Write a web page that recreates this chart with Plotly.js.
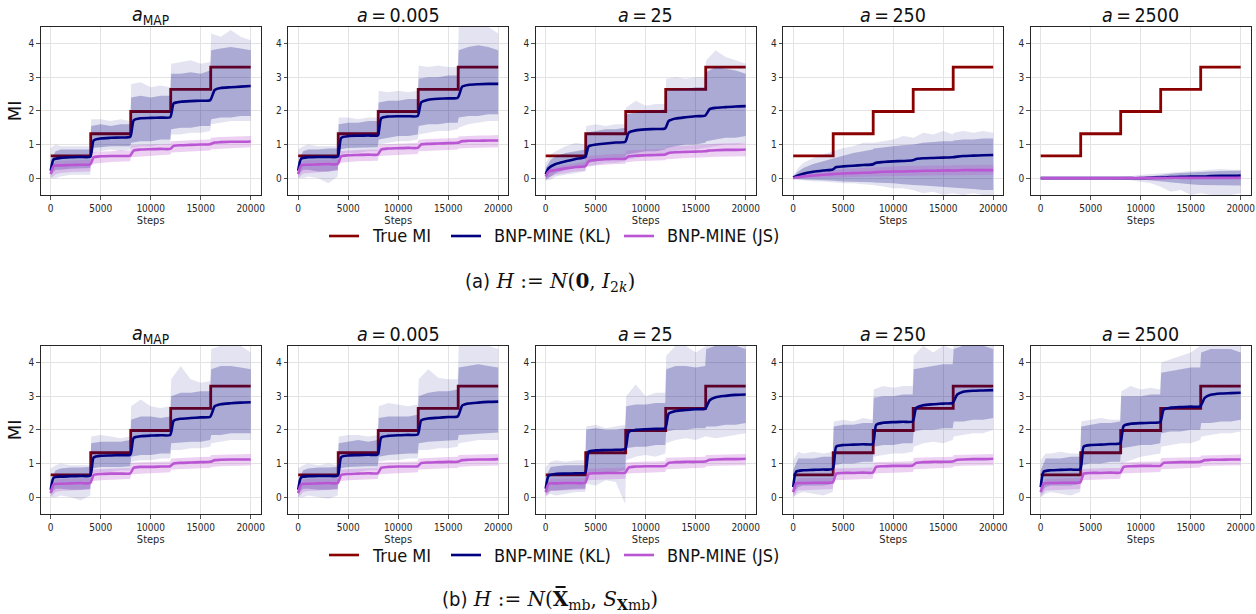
<!DOCTYPE html>
<html>
<head>
<meta charset="utf-8">
<script src="https://cdn.plot.ly/plotly-3.0.1.min.js"></script>
<style>
  html, body { margin: 0; padding: 0; background: #ffffff; }
  #chart { width: 1256px; height: 614px; }
</style>
</head>
<body>
<div id="chart"></div>
<script>
// ---- training-step grids ----
const stepsLine = [0, 300, 1000, 2000, 3000, 3950, 4300, 5000, 6000, 7000, 7950, 8300, 9000, 10000, 11000, 11950, 12300, 13000, 14000, 15000, 15950, 16400, 17000, 18000, 19000, 20000];
const stepsBand = [0, 500, 1000, 2000, 3000, 3950, 4050, 5000, 6000, 7000, 7950, 8050, 9000, 10000, 11000, 11950, 12050, 13000, 14000, 15000, 15950, 16050, 17000, 18000, 19000, 20000];

// ---- ground-truth mutual information (staircase) ----
const trueSteps = [0, 4000, 8000, 12000, 16000, 20000];
const trueMI = [0.66, 1.32, 1.98, 2.64, 3.30, 3.30];

// ---- panel titles, legend labels, ticks ----
const panelTitles = ['<i>a</i><sub>MAP</sub>', '<i>a</i>\u2009=\u20090.005', '<i>a</i>\u2009=\u200925', '<i>a</i>\u2009=\u2009250', '<i>a</i>\u2009=\u20092500'];
const legendNames = ['True MI', 'BNP-MINE (KL)', 'BNP-MINE (JS)'];
const xTicks = [0, 5000, 10000, 15000, 20000];
const yTicks = [0, 1, 2, 3, 4];

// Each panel: smoothed KL / JS estimates (on stepsLine), the dense spread of the
// raw KL / JS estimates (Hi/Lo on stepsBand) and the extremes of the raw KL spikes (Max/Min).

// ================= (a) H := N(0, I_2k) =================
// a_MAP
const klA_map    = [0.22, 0.56, 0.60, 0.62, 0.63, 0.64, 1.12, 1.18, 1.20, 1.21, 1.23, 1.72, 1.78, 1.79, 1.80, 1.81, 2.22, 2.27, 2.29, 2.30, 2.32, 2.62, 2.68, 2.70, 2.72, 2.74];
const jsA_map    = [0.12, 0.36, 0.38, 0.39, 0.40, 0.41, 0.62, 0.65, 0.66, 0.66, 0.67, 0.82, 0.85, 0.86, 0.87, 0.87, 0.96, 0.98, 0.99, 1.00, 1.01, 1.06, 1.07, 1.08, 1.08, 1.09];
const klA_mapHi  = [0.55, 0.80, 0.85, 0.85, 0.86, 0.85, 1.55, 1.60, 1.55, 1.60, 1.60, 2.40, 2.45, 2.40, 2.45, 2.45, 3.10, 3.10, 3.15, 3.10, 3.20, 3.80, 3.85, 3.90, 3.85, 3.80];
const klA_mapLo  = [0.10, 0.25, 0.25, 0.28, 0.30, 0.30, 0.90, 0.92, 0.95, 0.95, 0.95, 1.05, 1.10, 1.10, 1.15, 1.15, 1.45, 1.50, 1.50, 1.55, 1.55, 1.75, 1.80, 1.80, 1.85, 1.85];
const klA_mapMax = [0.90, 1.00, 0.95, 0.95, 0.95, 0.95, 1.75, 1.75, 1.70, 1.75, 1.70, 2.80, 2.85, 2.70, 2.75, 2.70, 3.40, 3.45, 3.50, 3.40, 3.45, 4.30, 4.20, 4.40, 4.20, 4.10];
const klA_mapMin = [0.00, 0.00, 0.05, 0.10, 0.10, 0.10, 0.75, 0.80, 0.85, 0.80, 0.85, 0.90, 0.95, 0.95, 1.00, 1.00, 1.30, 1.30, 1.35, 1.35, 1.40, 1.60, 1.65, 1.70, 1.70, 1.70];
const jsA_mapHi  = [0.30, 0.50, 0.52, 0.53, 0.54, 0.55, 0.78, 0.80, 0.80, 0.82, 0.82, 0.98, 1.00, 1.00, 1.01, 1.02, 1.10, 1.12, 1.13, 1.14, 1.15, 1.20, 1.22, 1.23, 1.24, 1.25];
const jsA_mapLo  = [0.00, 0.12, 0.15, 0.18, 0.20, 0.20, 0.42, 0.45, 0.48, 0.50, 0.50, 0.62, 0.65, 0.67, 0.68, 0.70, 0.76, 0.78, 0.80, 0.80, 0.82, 0.86, 0.88, 0.90, 0.90, 0.92];
// a = 0.005
const klA_0005    = [0.22, 0.58, 0.62, 0.63, 0.63, 0.64, 1.20, 1.25, 1.26, 1.27, 1.27, 1.78, 1.83, 1.84, 1.84, 1.85, 2.25, 2.33, 2.36, 2.37, 2.39, 2.72, 2.77, 2.79, 2.80, 2.80];
const jsA_0005    = [0.12, 0.38, 0.40, 0.41, 0.42, 0.42, 0.65, 0.68, 0.69, 0.70, 0.70, 0.85, 0.88, 0.89, 0.90, 0.90, 1.00, 1.02, 1.03, 1.04, 1.05, 1.10, 1.11, 1.11, 1.12, 1.12];
const klA_0005Hi  = [0.50, 0.80, 0.85, 0.85, 0.88, 0.88, 1.60, 1.65, 1.65, 1.70, 1.70, 2.25, 2.30, 2.30, 2.35, 2.35, 2.95, 3.00, 3.00, 3.05, 3.05, 3.80, 3.90, 3.95, 3.90, 3.80];
const klA_0005Lo  = [0.10, 0.25, 0.25, 0.20, 0.20, 0.25, 0.85, 0.90, 0.90, 0.92, 0.92, 1.15, 1.20, 1.25, 1.25, 1.30, 1.55, 1.60, 1.60, 1.65, 1.65, 1.80, 1.85, 1.85, 1.90, 1.90];
const klA_0005Max = [0.85, 0.95, 1.00, 0.95, 0.95, 0.95, 1.80, 1.80, 1.75, 1.80, 1.80, 2.60, 2.55, 2.60, 2.55, 2.60, 3.35, 3.30, 3.35, 3.30, 3.30, 4.50, 4.50, 4.50, 4.50, 4.30];
const klA_0005Min = [0.00, 0.00, 0.05, 0.00, -0.15, 0.05, 0.70, 0.75, 0.75, 0.80, 0.80, 1.00, 1.05, 1.10, 1.10, 1.15, 1.30, 1.35, 1.40, 1.40, 1.45, 1.50, 1.60, 1.65, 1.70, 1.70];
const jsA_0005Hi  = [0.30, 0.52, 0.54, 0.55, 0.55, 0.56, 0.80, 0.83, 0.84, 0.85, 0.85, 1.00, 1.02, 1.03, 1.04, 1.05, 1.14, 1.16, 1.17, 1.18, 1.19, 1.24, 1.26, 1.27, 1.27, 1.28];
const jsA_0005Lo  = [0.00, 0.14, 0.16, 0.18, 0.20, 0.22, 0.45, 0.48, 0.50, 0.52, 0.52, 0.66, 0.68, 0.70, 0.71, 0.72, 0.80, 0.82, 0.83, 0.84, 0.85, 0.88, 0.90, 0.91, 0.92, 0.92];
// a = 25
const klA_25    = [0.12, 0.30, 0.42, 0.50, 0.57, 0.63, 0.95, 1.00, 1.03, 1.06, 1.08, 1.35, 1.42, 1.45, 1.46, 1.48, 1.70, 1.77, 1.81, 1.84, 1.86, 2.05, 2.09, 2.11, 2.13, 2.14];
const jsA_25    = [0.05, 0.20, 0.24, 0.29, 0.33, 0.36, 0.50, 0.54, 0.56, 0.57, 0.58, 0.65, 0.67, 0.68, 0.69, 0.70, 0.75, 0.77, 0.78, 0.79, 0.80, 0.82, 0.83, 0.84, 0.84, 0.85];
const klA_25Hi  = [0.30, 0.55, 0.65, 0.75, 0.80, 0.85, 1.35, 1.40, 1.45, 1.45, 1.50, 1.90, 1.95, 2.00, 2.00, 2.05, 2.60, 2.65, 2.65, 2.70, 2.70, 3.15, 3.30, 3.25, 3.20, 3.10];
const klA_25Lo  = [-0.05, 0.05, 0.15, 0.25, 0.30, 0.30, 0.45, 0.50, 0.55, 0.55, 0.60, 0.70, 0.75, 0.80, 0.80, 0.85, 0.90, 0.95, 1.00, 1.00, 1.05, 1.10, 1.15, 1.20, 1.20, 1.25];
const klA_25Max = [0.45, 0.70, 0.80, 0.95, 1.05, 1.00, 1.55, 1.60, 1.55, 1.60, 1.60, 2.10, 2.30, 2.15, 2.20, 2.20, 2.95, 3.00, 2.95, 3.00, 3.00, 3.50, 3.80, 3.60, 3.50, 3.40];
const klA_25Min = [-0.08, -0.05, 0.05, 0.10, 0.15, 0.20, 0.35, 0.40, 0.45, 0.45, 0.50, 0.55, 0.60, 0.65, 0.65, 0.70, 0.75, 0.80, 0.85, 0.85, 0.90, 0.90, 0.95, 1.00, 1.00, 1.05];
const jsA_25Hi  = [0.20, 0.32, 0.35, 0.40, 0.45, 0.48, 0.65, 0.68, 0.70, 0.72, 0.72, 0.82, 0.84, 0.85, 0.86, 0.87, 0.93, 0.95, 0.96, 0.97, 0.98, 1.00, 1.02, 1.03, 1.04, 1.05];
const jsA_25Lo  = [-0.05, 0.05, 0.10, 0.15, 0.20, 0.22, 0.33, 0.38, 0.40, 0.42, 0.43, 0.47, 0.50, 0.52, 0.52, 0.53, 0.56, 0.58, 0.60, 0.60, 0.62, 0.62, 0.64, 0.64, 0.65, 0.65];
// a = 250
const klA_250    = [0.02, 0.06, 0.13, 0.19, 0.23, 0.26, 0.33, 0.35, 0.37, 0.39, 0.41, 0.46, 0.48, 0.50, 0.51, 0.53, 0.57, 0.59, 0.60, 0.61, 0.62, 0.64, 0.66, 0.67, 0.68, 0.69];
const jsA_250    = [0.00, 0.02, 0.05, 0.08, 0.10, 0.12, 0.13, 0.14, 0.15, 0.16, 0.17, 0.18, 0.19, 0.20, 0.20, 0.21, 0.21, 0.22, 0.22, 0.23, 0.23, 0.23, 0.24, 0.24, 0.24, 0.24];
const klA_250Hi  = [0.05, 0.20, 0.30, 0.42, 0.50, 0.58, 0.60, 0.68, 0.75, 0.80, 0.85, 0.88, 0.92, 0.95, 0.98, 1.00, 1.00, 1.05, 1.08, 1.10, 1.10, 1.12, 1.15, 1.15, 1.18, 1.18];
const klA_250Lo  = [-0.02, -0.03, -0.05, -0.05, -0.06, -0.08, -0.08, -0.10, -0.10, -0.12, -0.12, -0.13, -0.15, -0.15, -0.18, -0.20, -0.20, -0.22, -0.25, -0.28, -0.30, -0.30, -0.30, -0.32, -0.35, -0.35];
const klA_250Max = [0.08, 0.30, 0.45, 0.60, 0.70, 0.80, 0.80, 0.90, 0.95, 1.05, 1.05, 1.05, 1.10, 1.15, 1.25, 1.20, 1.20, 1.35, 1.30, 1.40, 1.30, 1.35, 1.40, 1.35, 1.40, 1.35];
const klA_250Min = [-0.03, -0.05, -0.08, -0.10, -0.10, -0.12, -0.12, -0.15, -0.15, -0.18, -0.20, -0.20, -0.25, -0.30, -0.30, -0.35, -0.35, -0.45, -0.40, -0.50, -0.45, -0.45, -0.50, -0.45, -0.50, -0.50];
const jsA_250Hi  = [0.02, 0.08, 0.12, 0.17, 0.21, 0.24, 0.25, 0.27, 0.29, 0.31, 0.32, 0.33, 0.34, 0.35, 0.36, 0.36, 0.37, 0.37, 0.38, 0.38, 0.38, 0.39, 0.39, 0.40, 0.40, 0.40];
const jsA_250Lo  = [-0.02, -0.03, -0.02, 0.00, 0.01, 0.02, 0.02, 0.03, 0.04, 0.04, 0.05, 0.05, 0.06, 0.06, 0.07, 0.07, 0.07, 0.08, 0.08, 0.08, 0.08, 0.09, 0.09, 0.09, 0.10, 0.10];
// a = 2500
const klA_2500    = [0.00, 0.00, 0.00, 0.00, 0.00, 0.00, 0.00, 0.00, 0.00, 0.00, 0.00, 0.00, 0.00, 0.00, 0.01, 0.02, 0.02, 0.03, 0.04, 0.05, 0.05, 0.05, 0.06, 0.07, 0.07, 0.08];
const jsA_2500    = [0.00, 0.00, 0.00, 0.00, 0.00, 0.00, 0.00, 0.00, 0.00, 0.00, 0.00, 0.00, 0.00, 0.00, 0.00, 0.00, 0.00, 0.01, 0.01, 0.01, 0.01, 0.01, 0.01, 0.01, 0.01, 0.01];
const klA_2500Hi  = [0.01, 0.01, 0.01, 0.01, 0.01, 0.01, 0.01, 0.01, 0.01, 0.01, 0.01, 0.01, 0.01, 0.03, 0.06, 0.10, 0.10, 0.13, 0.15, 0.17, 0.18, 0.19, 0.20, 0.21, 0.22, 0.22];
const klA_2500Lo  = [-0.01, -0.01, -0.01, -0.01, -0.01, -0.01, -0.01, -0.01, -0.01, -0.01, -0.01, -0.01, -0.01, -0.02, -0.05, -0.08, -0.10, -0.12, -0.15, -0.18, -0.20, -0.20, -0.20, -0.22, -0.22, -0.22];
const klA_2500Max = [0.01, 0.01, 0.01, 0.01, 0.01, 0.01, 0.01, 0.01, 0.02, 0.03, 0.04, 0.04, 0.06, 0.10, 0.12, 0.15, 0.15, 0.18, 0.20, 0.22, 0.22, 0.24, 0.25, 0.27, 0.25, 0.25];
const klA_2500Min = [-0.01, -0.01, -0.01, -0.01, -0.01, -0.01, -0.01, -0.01, -0.02, -0.03, -0.04, -0.04, -0.06, -0.10, -0.15, -0.25, -0.25, -0.40, -0.35, -0.50, -0.45, -0.45, -0.50, -0.50, -0.50, -0.45];
const jsA_2500Hi  = [0.015, 0.015, 0.015, 0.015, 0.015, 0.015, 0.015, 0.015, 0.015, 0.015, 0.015, 0.015, 0.015, 0.015, 0.015, 0.02, 0.02, 0.025, 0.025, 0.03, 0.03, 0.03, 0.03, 0.03, 0.03, 0.03];
const jsA_2500Lo  = [-0.015, -0.015, -0.015, -0.015, -0.015, -0.015, -0.015, -0.015, -0.015, -0.015, -0.015, -0.015, -0.015, -0.015, -0.015, -0.015, -0.015, -0.015, -0.015, -0.015, -0.015, -0.015, -0.015, -0.015, -0.015, -0.015];

// ================= (b) H := N(X̄_mb, S_X_mb) =================
// a_MAP
const klB_map    = [0.22, 0.58, 0.61, 0.62, 0.63, 0.64, 1.18, 1.23, 1.24, 1.25, 1.26, 1.76, 1.81, 1.83, 1.84, 1.85, 2.27, 2.33, 2.35, 2.37, 2.39, 2.70, 2.76, 2.79, 2.81, 2.82];
const jsB_map    = [0.12, 0.38, 0.40, 0.41, 0.42, 0.42, 0.66, 0.69, 0.70, 0.70, 0.71, 0.87, 0.90, 0.90, 0.91, 0.92, 1.00, 1.02, 1.03, 1.04, 1.05, 1.10, 1.11, 1.12, 1.12, 1.12];
const klB_mapHi  = [0.50, 0.80, 0.85, 0.88, 0.88, 0.90, 1.60, 1.65, 1.65, 1.65, 1.70, 2.30, 2.40, 2.40, 2.35, 2.40, 3.00, 3.10, 3.10, 3.15, 3.15, 3.80, 3.90, 3.90, 3.85, 3.80];
const klB_mapLo  = [0.10, 0.25, 0.25, 0.22, 0.22, 0.25, 0.85, 0.90, 0.90, 0.90, 0.92, 1.20, 1.25, 1.25, 1.30, 1.30, 1.60, 1.62, 1.65, 1.65, 1.70, 1.85, 1.85, 1.90, 1.90, 1.90];
const klB_mapMax = [0.85, 0.95, 1.00, 0.95, 0.95, 0.95, 1.80, 1.85, 1.80, 1.75, 1.80, 2.70, 2.90, 2.70, 2.65, 2.70, 3.50, 3.90, 3.50, 3.40, 3.45, 4.40, 4.50, 4.50, 4.50, 4.30];
const klB_mapMin = [0.00, 0.00, 0.05, 0.00, -0.10, 0.05, 0.70, 0.75, 0.75, 0.80, 0.80, 1.05, 1.10, 1.10, 1.15, 1.15, 1.40, 1.40, 1.45, 1.45, 1.50, 1.60, 1.65, 1.70, 1.70, 1.70];
const jsB_mapHi  = [0.30, 0.52, 0.54, 0.55, 0.55, 0.56, 0.82, 0.84, 0.85, 0.86, 0.86, 1.02, 1.04, 1.05, 1.05, 1.06, 1.15, 1.17, 1.18, 1.19, 1.20, 1.25, 1.26, 1.27, 1.27, 1.28];
const jsB_mapLo  = [0.00, 0.15, 0.18, 0.20, 0.21, 0.22, 0.47, 0.50, 0.52, 0.53, 0.54, 0.68, 0.70, 0.72, 0.73, 0.74, 0.82, 0.84, 0.85, 0.86, 0.87, 0.90, 0.92, 0.93, 0.94, 0.94];
// a = 0.005
const klB_0005    = [0.22, 0.59, 0.62, 0.63, 0.63, 0.64, 1.19, 1.24, 1.25, 1.26, 1.27, 1.77, 1.82, 1.84, 1.85, 1.86, 2.28, 2.34, 2.36, 2.38, 2.40, 2.72, 2.78, 2.81, 2.83, 2.84];
const jsB_0005    = [0.12, 0.38, 0.40, 0.41, 0.42, 0.42, 0.66, 0.69, 0.70, 0.71, 0.71, 0.87, 0.90, 0.91, 0.91, 0.92, 1.01, 1.03, 1.04, 1.05, 1.05, 1.10, 1.11, 1.12, 1.12, 1.13];
const klB_0005Hi  = [0.50, 0.80, 0.85, 0.88, 0.88, 0.90, 1.60, 1.65, 1.70, 1.65, 1.70, 2.35, 2.40, 2.40, 2.40, 2.45, 3.00, 3.10, 3.15, 3.15, 3.20, 3.85, 3.90, 3.95, 3.90, 3.85];
const klB_0005Lo  = [0.10, 0.25, 0.25, 0.22, 0.22, 0.25, 0.85, 0.90, 0.90, 0.92, 0.92, 1.20, 1.25, 1.28, 1.30, 1.30, 1.60, 1.65, 1.65, 1.68, 1.70, 1.85, 1.88, 1.90, 1.90, 1.92];
const klB_0005Max = [0.85, 0.95, 1.00, 0.95, 1.00, 0.95, 1.80, 1.85, 1.85, 1.80, 1.85, 2.70, 2.80, 2.75, 2.70, 2.75, 3.50, 3.80, 3.55, 3.50, 3.50, 4.50, 4.50, 4.50, 4.50, 4.40];
const klB_0005Min = [0.00, 0.00, 0.05, 0.00, -0.05, 0.05, 0.70, 0.75, 0.75, 0.80, 0.80, 1.05, 1.10, 1.10, 1.15, 1.15, 1.40, 1.40, 1.45, 1.45, 1.50, 1.60, 1.65, 1.70, 1.70, 1.70];
const jsB_0005Hi  = [0.30, 0.52, 0.54, 0.55, 0.55, 0.56, 0.82, 0.84, 0.85, 0.86, 0.86, 1.02, 1.04, 1.05, 1.05, 1.06, 1.15, 1.17, 1.18, 1.19, 1.20, 1.25, 1.26, 1.27, 1.27, 1.28];
const jsB_0005Lo  = [0.00, 0.15, 0.18, 0.20, 0.21, 0.22, 0.47, 0.50, 0.52, 0.53, 0.54, 0.68, 0.70, 0.72, 0.73, 0.74, 0.82, 0.84, 0.85, 0.86, 0.87, 0.90, 0.92, 0.93, 0.94, 0.94];
// a = 25
const klB_25    = [0.25, 0.64, 0.69, 0.70, 0.71, 0.73, 1.35, 1.39, 1.40, 1.41, 1.43, 1.94, 2.00, 2.02, 2.03, 2.05, 2.48, 2.56, 2.59, 2.61, 2.63, 2.88, 2.97, 3.01, 3.04, 3.05];
const jsB_25    = [0.15, 0.40, 0.41, 0.42, 0.42, 0.43, 0.69, 0.71, 0.72, 0.72, 0.73, 0.88, 0.91, 0.92, 0.92, 0.93, 1.02, 1.04, 1.05, 1.05, 1.06, 1.11, 1.12, 1.13, 1.13, 1.14];
const klB_25Hi  = [0.60, 0.90, 0.92, 0.95, 0.95, 0.95, 2.00, 2.05, 2.00, 2.00, 2.05, 2.70, 2.75, 2.75, 2.80, 2.80, 3.80, 3.90, 3.90, 3.85, 3.90, 4.40, 4.50, 4.50, 4.50, 4.40];
const klB_25Lo  = [0.10, 0.20, 0.20, 0.22, 0.25, 0.25, 0.70, 0.75, 0.75, 0.75, 0.80, 1.45, 1.50, 1.50, 1.55, 1.55, 1.95, 2.00, 2.00, 2.05, 2.05, 2.10, 2.10, 2.15, 2.15, 2.20];
const klB_25Max = [0.90, 1.05, 1.10, 1.05, 1.10, 1.10, 2.10, 2.15, 2.05, 2.10, 2.15, 3.00, 3.35, 3.00, 3.10, 3.10, 4.20, 4.50, 4.50, 4.30, 4.50, 4.50, 4.50, 4.50, 4.50, 4.50];
const klB_25Min = [0.05, 0.10, 0.05, 0.10, 0.15, 0.15, 0.40, 0.35, 0.50, 0.45, -0.20, 1.10, 1.20, 1.25, 1.20, 1.30, 1.60, 1.70, 1.75, 1.70, 1.80, 1.80, 1.75, 1.80, 1.85, 1.90];
const jsB_25Hi  = [0.30, 0.55, 0.55, 0.56, 0.56, 0.57, 0.84, 0.86, 0.87, 0.87, 0.88, 1.03, 1.05, 1.06, 1.06, 1.07, 1.17, 1.18, 1.19, 1.20, 1.20, 1.25, 1.26, 1.27, 1.28, 1.28];
const jsB_25Lo  = [0.00, 0.18, 0.20, 0.21, 0.22, 0.23, 0.50, 0.52, 0.53, 0.54, 0.55, 0.70, 0.72, 0.73, 0.74, 0.75, 0.83, 0.85, 0.86, 0.87, 0.88, 0.92, 0.93, 0.94, 0.95, 0.95];
// a = 250
const klB_250    = [0.30, 0.76, 0.80, 0.81, 0.82, 0.84, 1.50, 1.55, 1.56, 1.57, 1.58, 2.15, 2.21, 2.23, 2.24, 2.25, 2.65, 2.73, 2.76, 2.78, 2.80, 3.05, 3.13, 3.16, 3.17, 3.18];
const jsB_250    = [0.15, 0.41, 0.42, 0.43, 0.43, 0.44, 0.70, 0.72, 0.72, 0.73, 0.73, 0.90, 0.92, 0.93, 0.93, 0.94, 1.02, 1.04, 1.05, 1.05, 1.06, 1.11, 1.12, 1.13, 1.13, 1.14];
const klB_250Hi  = [0.80, 1.15, 1.15, 1.15, 1.20, 1.20, 2.10, 2.15, 2.15, 2.20, 2.20, 2.95, 3.00, 3.00, 3.05, 3.05, 3.80, 3.85, 3.90, 3.95, 3.95, 4.40, 4.50, 4.50, 4.50, 4.40];
const klB_250Lo  = [0.10, 0.30, 0.35, 0.35, 0.35, 0.40, 0.95, 1.00, 1.00, 1.05, 1.05, 1.50, 1.55, 1.55, 1.60, 1.60, 1.95, 2.00, 2.00, 2.05, 2.05, 2.25, 2.25, 2.30, 2.30, 2.35];
const klB_250Max = [1.10, 1.35, 1.30, 1.35, 1.30, 1.35, 2.25, 2.30, 2.25, 2.35, 2.30, 3.20, 3.30, 3.25, 3.30, 3.30, 4.20, 4.50, 4.30, 4.50, 4.40, 4.50, 4.50, 4.50, 4.50, 4.50];
const klB_250Min = [0.00, 0.10, 0.15, 0.10, 0.05, 0.15, 0.60, 0.70, 0.75, 0.70, 0.80, 1.20, 1.25, 1.30, 1.30, 1.35, 1.50, 1.60, 1.65, 1.60, 1.70, 1.80, 1.85, 1.90, 1.90, 2.00];
const jsB_250Hi  = [0.30, 0.55, 0.56, 0.56, 0.57, 0.57, 0.85, 0.86, 0.87, 0.87, 0.88, 1.04, 1.05, 1.06, 1.07, 1.07, 1.17, 1.18, 1.19, 1.20, 1.20, 1.25, 1.26, 1.27, 1.28, 1.28];
const jsB_250Lo  = [0.00, 0.20, 0.22, 0.22, 0.23, 0.24, 0.50, 0.52, 0.53, 0.54, 0.55, 0.70, 0.72, 0.73, 0.74, 0.75, 0.83, 0.85, 0.86, 0.87, 0.88, 0.92, 0.93, 0.94, 0.95, 0.95];
// a = 2500
const klB_2500    = [0.30, 0.76, 0.80, 0.81, 0.82, 0.83, 1.50, 1.55, 1.56, 1.58, 1.60, 2.12, 2.18, 2.20, 2.21, 2.23, 2.60, 2.66, 2.68, 2.69, 2.70, 2.95, 3.04, 3.08, 3.09, 3.10];
const jsB_2500    = [0.15, 0.40, 0.42, 0.43, 0.43, 0.44, 0.70, 0.72, 0.72, 0.73, 0.73, 0.90, 0.92, 0.93, 0.93, 0.93, 1.02, 1.03, 1.04, 1.04, 1.05, 1.10, 1.11, 1.11, 1.12, 1.12];
const klB_2500Hi  = [0.80, 1.15, 1.15, 1.15, 1.20, 1.20, 2.10, 2.15, 2.20, 2.20, 2.25, 3.00, 3.00, 3.00, 3.05, 3.05, 3.70, 3.75, 3.80, 3.85, 3.85, 4.30, 4.40, 4.40, 4.40, 4.30];
const klB_2500Lo  = [0.10, 0.30, 0.35, 0.35, 0.35, 0.40, 0.95, 1.00, 1.00, 1.05, 1.05, 1.45, 1.50, 1.55, 1.55, 1.60, 1.90, 1.95, 1.95, 2.00, 2.00, 2.20, 2.20, 2.25, 2.25, 2.30];
const klB_2500Max = [1.10, 1.30, 1.30, 1.35, 1.30, 1.30, 2.25, 2.30, 2.35, 2.30, 2.30, 3.15, 3.30, 3.20, 3.25, 3.20, 4.00, 4.10, 4.20, 4.30, 4.50, 4.50, 4.50, 4.50, 4.50, 4.50];
const klB_2500Min = [0.00, 0.10, 0.15, 0.10, 0.05, 0.15, 0.60, 0.70, 0.75, 0.70, 0.80, 1.00, 1.10, 1.20, 1.25, 1.30, 1.50, 1.55, 1.60, 1.60, 1.70, 1.80, 1.85, 1.90, 1.90, 1.95];
const jsB_2500Hi  = [0.30, 0.55, 0.55, 0.56, 0.56, 0.57, 0.84, 0.86, 0.86, 0.87, 0.87, 1.03, 1.05, 1.05, 1.06, 1.06, 1.16, 1.17, 1.18, 1.19, 1.19, 1.24, 1.25, 1.26, 1.27, 1.27];
const jsB_2500Lo  = [0.00, 0.20, 0.22, 0.22, 0.23, 0.24, 0.50, 0.52, 0.53, 0.54, 0.55, 0.70, 0.72, 0.73, 0.74, 0.75, 0.83, 0.85, 0.86, 0.87, 0.88, 0.92, 0.93, 0.94, 0.95, 0.95];

// ---- panel table (row-major) ----
const panels = [
  [klA_map,  klA_mapHi,  klA_mapLo,  klA_mapMax,  klA_mapMin,  jsA_map,  jsA_mapHi,  jsA_mapLo],
  [klA_0005, klA_0005Hi, klA_0005Lo, klA_0005Max, klA_0005Min, jsA_0005, jsA_0005Hi, jsA_0005Lo],
  [klA_25,   klA_25Hi,   klA_25Lo,   klA_25Max,   klA_25Min,   jsA_25,   jsA_25Hi,   jsA_25Lo],
  [klA_250,  klA_250Hi,  klA_250Lo,  klA_250Max,  klA_250Min,  jsA_250,  jsA_250Hi,  jsA_250Lo],
  [klA_2500, klA_2500Hi, klA_2500Lo, klA_2500Max, klA_2500Min, jsA_2500, jsA_2500Hi, jsA_2500Lo],
  [klB_map,  klB_mapHi,  klB_mapLo,  klB_mapMax,  klB_mapMin,  jsB_map,  jsB_mapHi,  jsB_mapLo],
  [klB_0005, klB_0005Hi, klB_0005Lo, klB_0005Max, klB_0005Min, jsB_0005, jsB_0005Hi, jsB_0005Lo],
  [klB_25,   klB_25Hi,   klB_25Lo,   klB_25Max,   klB_25Min,   jsB_25,   jsB_25Hi,   jsB_25Lo],
  [klB_250,  klB_250Hi,  klB_250Lo,  klB_250Max,  klB_250Min,  jsB_250,  jsB_250Hi,  jsB_250Lo],
  [klB_2500, klB_2500Hi, klB_2500Lo, klB_2500Max, klB_2500Min, jsB_2500, jsB_2500Hi, jsB_2500Lo]
];

// ---- styling ----
const W = 1256, H = 614;
const COLOR_TRUE = '#8b0000';
const COLOR_KL = '#000080';
const COLOR_JS = '#ba55d3';
const FILL_KL = 'rgba(0,0,128,0.25)';
const FILL_KL_SPIKES = 'rgba(0,0,128,0.11)';
const FILL_JS = 'rgba(186,85,211,0.27)';
const SANS = 'DejaVu Sans, Verdana, sans-serif';
const SANS_C = 'DejaVu Sans Condensed, DejaVu Sans, sans-serif';
const SERIF = 'DejaVu Serif, Liberation Serif, serif';

const colLeft = [40.7, 288.2, 535.7, 783.2, 1030.7];
const plotW = 220;
const rowTop = [26.7, 345.7];
const plotH = 168.3;

const px = v => v / W;
const py = v => 1 - v / H;

const traces = [];
const layout = {
  width: W, height: H,
  margin: {l: 0, r: 0, t: 0, b: 0},
  paper_bgcolor: '#ffffff',
  plot_bgcolor: '#ffffff',
  showlegend: false,
  annotations: [],
  shapes: [],
  font: {family: SANS, color: '#262626'}
};

function bandXY(hi, lo) {
  return {
    x: stepsBand.concat(stepsBand.slice().reverse()),
    y: hi.concat(lo.slice().reverse())
  };
}

function bandTrace(hi, lo, fill, xa, ya) {
  const b = bandXY(hi, lo);
  return {x: b.x, y: b.y, xaxis: xa, yaxis: ya, type: 'scatter', mode: 'lines',
    fill: 'toself', fillcolor: fill, line: {width: 0, color: fill}, hoverinfo: 'skip'};
}

panels.forEach((p, k) => {
  const row = Math.floor(k / 5), col = k % 5;
  const xa = 'x' + (k ? k + 1 : ''), ya = 'y' + (k ? k + 1 : '');
  const [kl, klHi, klLo, klMax, klMin, js, jsHi, jsLo] = p;

  traces.push({x: trueSteps, y: trueMI, xaxis: xa, yaxis: ya, type: 'scatter', mode: 'lines',
    line: {color: COLOR_TRUE, width: 2.8, shape: 'hv'}, name: legendNames[0], hoverinfo: 'skip'});
  traces.push(bandTrace(klMax, klMin, FILL_KL_SPIKES, xa, ya));
  traces.push(bandTrace(klHi, klLo, FILL_KL, xa, ya));
  traces.push(bandTrace(jsHi, jsLo, FILL_JS, xa, ya));
  traces.push({x: stepsLine, y: kl, xaxis: xa, yaxis: ya, type: 'scatter', mode: 'lines',
    line: {color: COLOR_KL, width: 2.6, shape: 'spline', smoothing: 0.6}, name: legendNames[1]});
  traces.push({x: stepsLine, y: js, xaxis: xa, yaxis: ya, type: 'scatter', mode: 'lines',
    line: {color: COLOR_JS, width: 2.6, shape: 'spline', smoothing: 0.6}, name: legendNames[2]});

  const x0 = colLeft[col], y0 = rowTop[row];
  layout['xaxis' + (k ? k + 1 : '')] = {
    domain: [px(x0), px(x0 + plotW)], anchor: ya,
    range: [-1000, 21000], tickvals: xTicks, ticktext: xTicks.map(String),
    showgrid: true, gridcolor: '#e3e3e3', gridwidth: 1, zeroline: false,
    showline: true, mirror: true, linecolor: '#262626', linewidth: 1,
    ticks: 'outside', ticklen: 3.5, tickwidth: 0.8, tickcolor: '#262626',
    tickfont: {family: SANS_C, size: 10, color: '#262626'},
    title: {text: 'Steps', font: {family: SANS_C, size: 11, color: '#262626'}, standoff: 3},
    automargin: false, fixedrange: true
  };
  const yax = {
    domain: [py(y0 + plotH), py(y0)], anchor: xa,
    range: [-0.5, 4.5], tickvals: yTicks, ticktext: yTicks.map(String),
    showgrid: true, gridcolor: '#e3e3e3', gridwidth: 1, zeroline: false,
    showline: true, mirror: true, linecolor: '#262626', linewidth: 1,
    ticks: 'outside', ticklen: 3.5, tickwidth: 0.8, tickcolor: '#262626',
    tickfont: {family: SANS_C, size: 10, color: '#262626'},
    automargin: false, fixedrange: true
  };
  if (col === 0) yax.title = {text: 'MI', font: {family: SANS, size: 18, color: '#111'}, standoff: 2};
  layout['yaxis' + (k ? k + 1 : '')] = yax;

  layout.annotations.push({
    xref: 'paper', yref: 'paper', x: px(x0 + plotW / 2), y: py(row ? 334 : 15),
    xanchor: 'center', yanchor: 'middle', showarrow: false,
    text: panelTitles[col], font: {family: SANS_C, size: 19.5, color: '#111'}
  });
});

// ---- legends and captions under each row ----
const legendRows = [236, 555];
const legendStarts = [329, 451, 624];
const legendColors = [COLOR_TRUE, COLOR_KL, COLOR_JS];
legendRows.forEach(ly => {
  legendStarts.forEach((lx, i) => {
    layout.shapes.push({type: 'line', xref: 'paper', yref: 'paper',
      x0: px(lx), x1: px(lx + 30), y0: py(ly), y1: py(ly),
      line: {color: legendColors[i], width: 2.6}});
    layout.annotations.push({xref: 'paper', yref: 'paper', x: px(lx + 41), y: py(ly),
      xanchor: 'left', yanchor: 'middle', showarrow: false, text: legendNames[i],
      font: {family: SANS_C, size: 18, color: '#111'}});
  });
});

const captions = [
  '<span style="font-family:DejaVu Sans Condensed, DejaVu Sans">(a)</span> <i>H</i> := <i>N</i>(<b>0</b>, <i>I</i><sub>2<i>k</i></sub>)',
  '<span style="font-family:DejaVu Sans Condensed, DejaVu Sans">(b)</span> <i>H</i> := <i>N</i>(<b>X&#773;</b><sub>mb</sub>, <i>S</i><sub><b>X</b>mb</sub>)'
];
[282, 599].forEach((cy, i) => {
  layout.annotations.push({xref: 'paper', yref: 'paper', x: px(550), y: py(cy),
    xanchor: 'center', yanchor: 'middle', showarrow: false, text: captions[i],
    font: {family: SERIF, size: 20, color: '#111'}});
});

Plotly.newPlot('chart', traces, layout, {displayModeBar: false, staticPlot: true}).then(gd => {
  // drop placeholder title nodes that carry no text
  gd.querySelectorAll('text').forEach(t => { if (!t.textContent.trim()) t.remove(); });
});
</script>
</body>
</html>
